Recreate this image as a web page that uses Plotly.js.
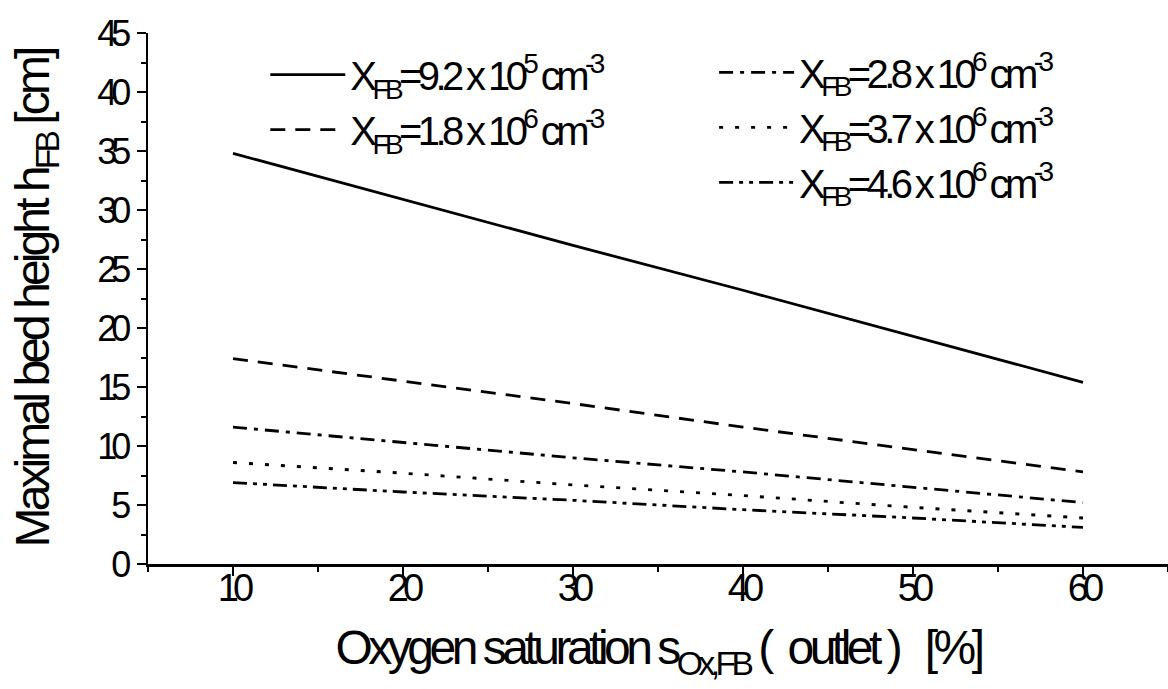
<!DOCTYPE html>
<html>
<head>
<meta charset="utf-8">
<script src="https://cdn.plot.ly/plotly-3.0.1.min.js"></script>
<style>
html,body{margin:0;padding:0;background:#fff;}
#chart{width:1168px;height:689px;}
#chart .g-xtitle text{letter-spacing:-4.5px;}
#chart .g-ytitle text{letter-spacing:-3.9px;}
#chart .legend text, #chart .legend2 text, #chart g[class^="legend"] text{letter-spacing:-4.6px;}
#chart .xtick text, #chart .ytick text{letter-spacing:-6px;}
</style>
</head>
<body>
<div id="chart"></div>
<script>
// Data
const oxygenSaturation = [10, 20, 30, 40, 50, 60];
const seriesNames = [
  "X<sub>FB</sub>=9.2 x 10<sup>5</sup> cm<sup>-3</sup>",
  "X<sub>FB</sub>=1.8 x 10<sup>6</sup> cm<sup>-3</sup>",
  "X<sub>FB</sub>=2.8 x 10<sup>6</sup> cm<sup>-3</sup>",
  "X<sub>FB</sub>=3.7 x 10<sup>6</sup> cm<sup>-3</sup>",
  "X<sub>FB</sub>=4.6 x 10<sup>6</sup> cm<sup>-3</sup>"
];
const height_92e5 = [34.8, 30.9, 27.0, 23.2, 19.3, 15.4];
const height_18e6 = [17.4, 15.5, 13.6, 11.6, 9.7, 7.8];
const height_28e6 = [11.6, 10.3, 9.0, 7.8, 6.5, 5.2];
const height_37e6 = [8.6, 7.7, 6.7, 5.8, 4.8, 3.9];
const height_46e6 = [6.9, 6.1, 5.4, 4.6, 3.9, 3.1];
const xTickLabels = ["10", "20", "30", "40", "50", "60"];

const FONT = "'Liberation Sans', Arial, sans-serif";
const seriesValues = [height_92e5, height_18e6, height_28e6, height_37e6, height_46e6];
const dashes = ["solid", "15px,10px", "14px,7px,4px,7px", "4px,12px", "14px,6px,4px,6px,4px,6px"];
const legends = ["legend", "legend", "legend2", "legend2", "legend2"];

const traces = seriesValues.map((vals, i) => ({
  x: oxygenSaturation,
  y: vals,
  type: "scatter",
  mode: "lines",
  name: seriesNames[i],
  legend: legends[i],
  line: {color: "#000", width: 2.8, dash: dashes[i]}
}));

const legendCommon = {
  font: {family: FONT, size: 40, color: "#000"},
  bgcolor: "rgba(0,0,0,0)",
  borderwidth: 0,
  itemwidth: 75,
  tracegroupgap: 0,
  xanchor: "left",
  yanchor: "top",
  itemclick: false
};

const layout = {
  width: 1168,
  height: 689,
  margin: {l: 148, r: 0, t: 33, b: 125},
  paper_bgcolor: "#fff",
  plot_bgcolor: "#fff",
  font: {family: FONT, color: "#000"},
  showlegend: true,
  legend: Object.assign({}, legendCommon, {x: 0.115, y: 0.983}),
  legend2: Object.assign({}, legendCommon, {x: 0.555, y: 0.987}),
  xaxis: {
    range: [5, 65],
    tickvals: oxygenSaturation,
    ticktext: xTickLabels,
    ticks: "outside",
    ticklen: 9,
    tickwidth: 2,
    tickcolor: "#000",
    ticklabelstandoff: -20,
    minor: {dtick: 5, tick0: 5, ticks: "outside", ticklen: 5, tickwidth: 2, tickcolor: "#000"},
    showline: true,
    linecolor: "#000",
    linewidth: 2.5,
    showgrid: false,
    zeroline: false,
    tickfont: {family: FONT, size: 38, color: "#000"},
    title: {
      text: "Oxygen saturation s<sub>Ox,FB</sub> (  outlet )   [%]",
      font: {family: FONT, size: 48, color: "#000"},
      standoff: 23
    }
  },
  yaxis: {
    range: [0, 45],
    dtick: 5,
    tick0: 0,
    ticks: "outside",
    ticklen: 9,
    tickwidth: 2,
    tickcolor: "#000",
    ticklabelstandoff: 4,
    minor: {dtick: 2.5, tick0: 0, ticks: "outside", ticklen: 5, tickwidth: 2, tickcolor: "#000"},
    showline: true,
    linecolor: "#000",
    linewidth: 2.5,
    showgrid: false,
    zeroline: false,
    tickfont: {family: FONT, size: 36, color: "#000"},
    title: {
      text: "Maximal bed height h<sub>FB</sub> [cm]",
      font: {family: FONT, size: 48, color: "#000"},
      standoff: 21
    }
  }
};

Plotly.newPlot("chart", traces, layout, {displayModeBar: false, staticPlot: true});
</script>
</body>
</html>
